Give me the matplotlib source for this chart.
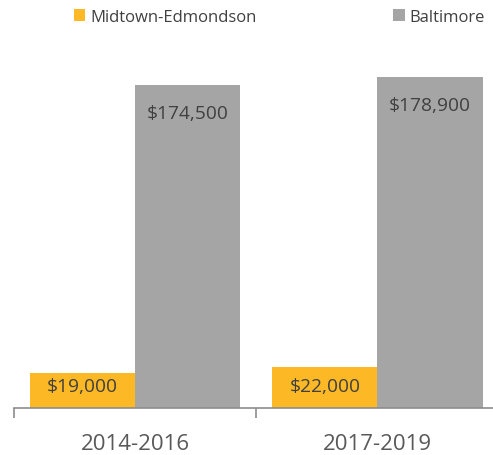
import numpy as np
import matplotlib.pyplot as plt

periods = ["2014-2016", "2017-2019"]
series = ["Midtown-Edmondson", "Baltimore"]
midtown = [19000, 22000]
baltimore = [174500, 178900]

colors = ["#FDB825", "#A5A5A5"]
label_color = "#404040"

plt.rcParams['font.family'] = ['Open Sans', 'DejaVu Sans']

W, H = 493, 456
fig = plt.figure(figsize=(W / 100, H / 100), dpi=100)
# axes: left at x=14px, one category = 242px, baseline at y=409px
ax = fig.add_axes([14 / W, (H - 409) / H, 484.6 / W, 389 / H])

x = np.arange(len(periods))
bw = 0.434
bars1 = ax.bar(x - bw / 2, midtown, bw, color=colors[0], label=series[0])
bars2 = ax.bar(x + bw / 2, baltimore, bw, color=colors[1], label=series[1])

ax.set_xlim(-0.5, len(periods) - 0.5)
ax.set_ylim(0, 389 * 540.2)

for bars in (bars1, bars2):
    for b in bars:
        v = b.get_height()
        cx = b.get_x() + b.get_width() / 2
        if v > 100000:
            ax.annotate(f"${v:,.0f}", (cx, v), xytext=(0, -28),
                        textcoords='offset pixels', ha='center', va='center',
                        fontsize=13.8, color=label_color)
        else:
            ax.annotate(f"${v:,.0f}", (cx, 0), xytext=(0, 22),
                        textcoords='offset pixels', ha='center', va='center',
                        fontsize=13.8, color=label_color)

for s in ['top', 'right', 'left']:
    ax.spines[s].set_visible(False)
ax.spines['bottom'].set_color('#8C8C8C')
ax.spines['bottom'].set_linewidth(1.2)
ax.set_yticks([])
ax.set_xticks(x)
ax.set_xticklabels(periods, fontsize=16, color='#595959')
ax.tick_params(axis='x', length=0, pad=18)
ax.set_xticks([-0.5, 0.5, 1.5], minor=True)
ax.tick_params(axis='x', which='minor', length=7, width=1.2, color='#8C8C8C')

fig.legend(loc='center left', bbox_to_anchor=(74 / W, 1 - 18 / H), ncol=2,
           frameon=False, fontsize=12, handlelength=0.68, handleheight=0.68,
           handletextpad=0.3, columnspacing=8.2, borderpad=0, borderaxespad=0,
           labelcolor='#404040')

fig.savefig("out.png", dpi=100)
